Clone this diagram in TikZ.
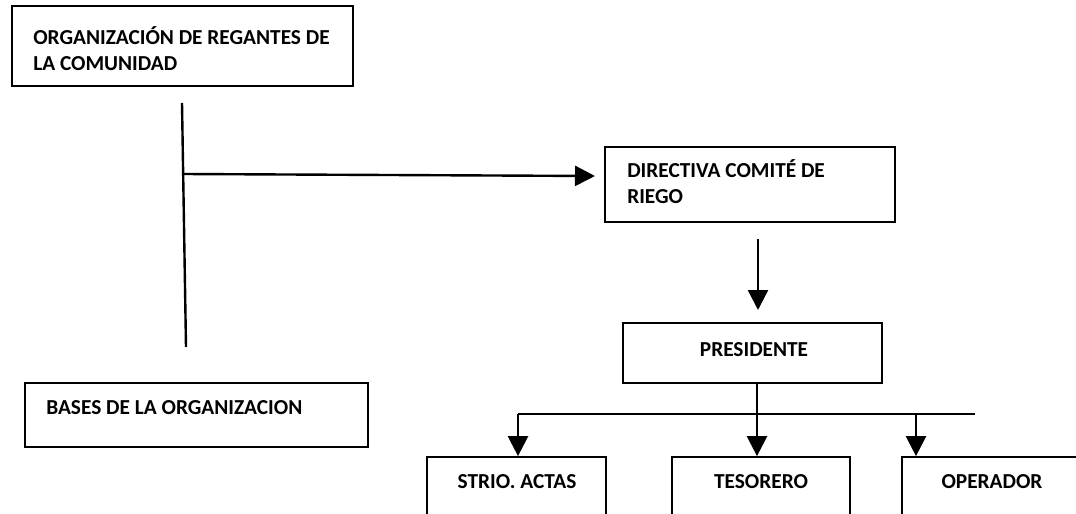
\documentclass[tikz,border=0pt]{standalone}
\usepackage{fontspec}
\setmainfont{Carlito}
\usetikzlibrary{arrows.meta,fit}
\begin{document}
\begin{tikzpicture}[x=0.75pt,y=-0.75pt,
  box/.style={draw,line width=1.3pt,inner sep=0pt},
  lbl/.style={inner sep=0pt,font=\fontsize{16}{19.5}\selectfont\bfseries,align=left},
  conn/.style={line width=1.8pt},
  arr/.style={line width=1.8pt,-{Triangle[length=15pt,width=15pt]}}]
\useasboundingbox (0,0) rectangle (1076,514);
\clip (0,0) rectangle (1076,514);
% boxes
\node[box,fit={(12,6) (353,86)}] (org) {};
\node[lbl,anchor=west] (orgt) at (33,49) {ORGANIZACIÓN DE REGANTES DE\\LA COMUNIDAD};
\node[box,fit={(25,383) (368,447)}] (bases) {};
\node[lbl,anchor=west] (basest) at (46,408) {BASES DE LA ORGANIZACION};
\node[box,fit={(605,147) (895,222)}] (dir) {};
\node[lbl,anchor=west] (dirt) at (627,182) {DIRECTIVA COMITÉ DE\\RIEGO};
\node[box,fit={(623,323) (882,383)}] (pres) {};
\node[lbl] (prest) at (754,350) {PRESIDENTE};
\node[box,fit={(427,457) (606,540)}] (strio) {};
\node[lbl] (striot) at (517,482) {STRIO. ACTAS};
\node[box,fit={(672,457) (850,540)}] (tes) {};
\node[lbl] (test) at (761,482) {TESORERO};
\node[box,fit={(902,457) (1100,540)}] (oper) {};
\node[lbl] (opert) at (992,482) {OPERADOR};
% connectors
\coordinate (vtop) at (182,103);
\coordinate (vbot) at (186,347);
\coordinate (vmid) at (183,174);
\coordinate (dirin) at (595,176);
\draw[conn] (vtop) -- (vbot);
\draw[arr] (vmid) -- (dirin);
\coordinate (d1) at (758,239);
\coordinate (d2) at (758,310);
\draw[arr] (d1) -- (d2);
\coordinate (hl) at (518,414);
\coordinate (hr) at (975,414);
\coordinate (ho) at (916,414);
\draw[conn] (hl) -- (hr);
\draw[arr] (pres.south -| 757,0) -- (tes.north -| 757,0);
\draw[arr] (hl) -- (strio.north -| hl);
\draw[arr] (ho) -- (oper.north -| ho);
\end{tikzpicture}
\end{document}
